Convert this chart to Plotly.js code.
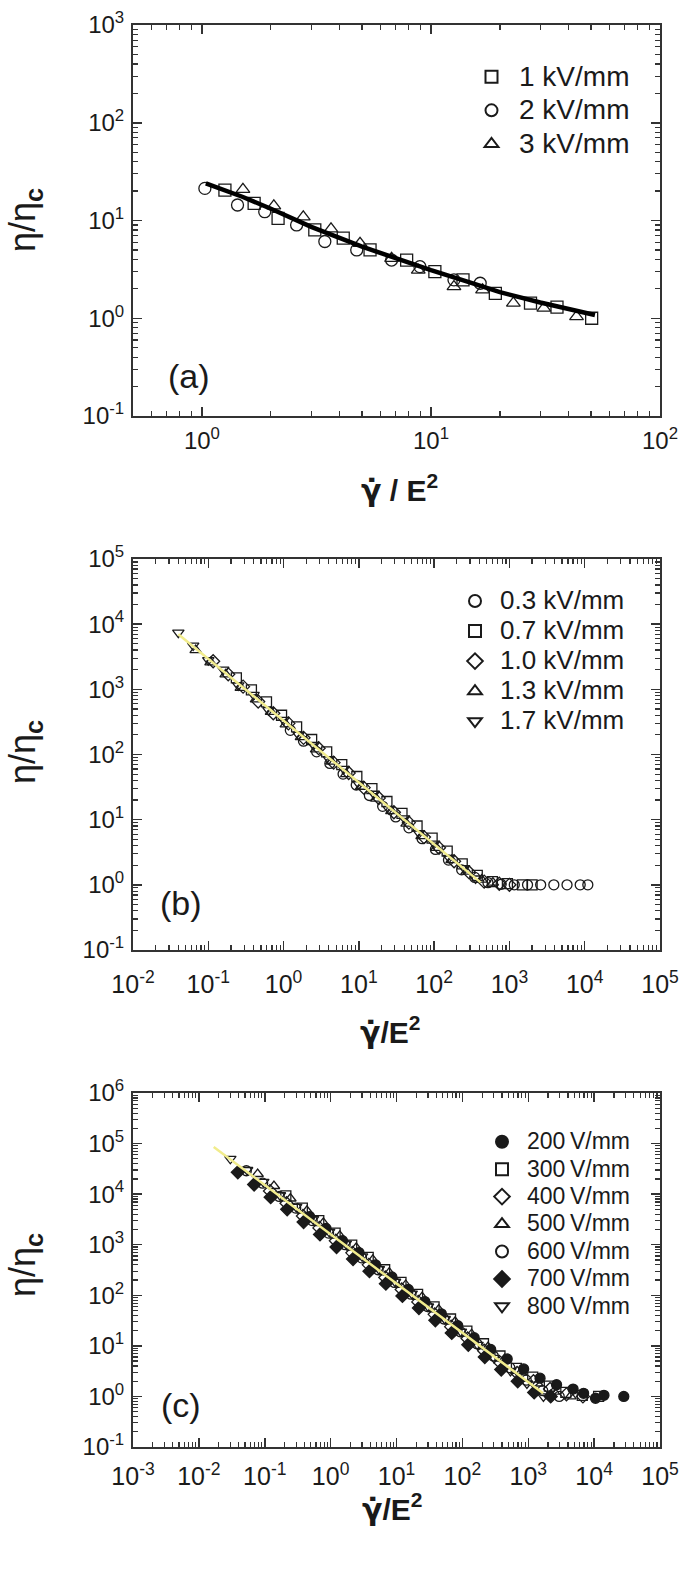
<!DOCTYPE html>
<html><head><meta charset="utf-8">
<script src="https://cdn.plot.ly/plotly-3.0.1.min.js"></script>
<style>html,body{margin:0;padding:0;background:#fff}#chart{width:685px;height:1572px}</style>
</head><body><div id="chart"></div>
<script>
// ---------- Panel (a) ----------
const a_1kV_x = [1.26,1.69,2.15,3.11,4.14,5.42,7.83,10.4,13.8,19.1,27.2,35.5,50.3];
const a_1kV_y = [20.5,15.0,10.5,8.0,6.6,5.0,3.94,3.0,2.47,1.80,1.43,1.30,1.0];
const a_2kV_x = [1.03,1.43,1.88,2.59,3.44,4.74,6.73,8.95,12.6,16.4];
const a_2kV_y = [21.3,14.4,12.3,9.0,6.1,5.0,3.94,3.37,2.47,2.28];
const a_3kV_x = [1.51,2.06,2.77,3.66,4.9,6.73,8.8,12.6,16.8,22.9,31.1,43.2];
const a_3kV_y = [20.8,14.1,10.9,8.2,5.85,4.1,3.1,2.11,1.95,1.43,1.27,1.04];
const a_fit_x = [1.04,1.5,2,3,5,7,10,15,20,30,40,52];
const a_fit_y = [24,17.5,13.2,8.6,5.4,4.1,3.1,2.3,1.85,1.45,1.25,1.08];

// ---------- Panel (b) ----------
const b_03_x = [1.23,1.84,2.75,4.12,6.17,9.23,13.8,20.7,30.9,46.2,69.2,104,155,232,347,519,776,1160,1740,2600,3890,5820,8710,11000];
const b_03_y = [235,160,110,73,50,34,23.5,16,11,7.5,5.1,3.5,2.4,1.7,1.3,1.08,1.02,1.0,1.0,1.0,1.0,1.0,1.0,1.0];
const b_07_x = [0.236,0.374,0.593,0.94,1.49,2.36,3.74,5.93,9.4,14.9,23.6,37.4,59.3,94,149,236,374,593,940,1490,2000];
const b_07_y = [1500,980,640,400,265,170,110,70,46,30,19,12.5,8,5.2,3.3,2.1,1.4,1.12,1.04,1.0,1.0];
const b_10_x = [0.116,0.184,0.29,0.46,0.73,1.16,1.84,2.92,4.62,7.33,11.6,18.4,29.2,46.2,73.3,116,184,292,462,733,1000];
const b_10_y = [2700,1700,1100,650,430,300,180,125,75,52,31,21.5,13,9,5.4,3.7,2.3,1.55,1.12,1.04,1.0];
const b_13_x = [0.068,0.107,0.17,0.27,0.43,0.68,1.07,1.7,2.7,4.3,6.8,10.7,17,27,43,68,107,170,269,427,603];
const b_13_y = [4000,2600,1700,1050,700,450,290,185,120,78,50,32,21,13.5,8.7,5.6,3.7,2.4,1.6,1.2,1.08];
const b_17_x = [0.040,0.063,0.10,0.158,0.25,0.40,0.63,1.0,1.58,2.5,4.0,6.3,10,15.8,25,40,63,100,158,250,355];
const b_17_y = [7400,4700,2800,2000,1150,820,480,340,200,140,85,60,35,25,14.5,10.5,6.2,4.3,2.6,1.8,1.25];
const b_fit_x = [0.04,414];
const b_fit_y = [7000,1.09];

// ---------- Panel (c) ----------
const c_200_x = [0.479,0.851,1.51,2.69,4.79,8.51,15.1,26.9,47.9,85.1,151,269,479,851,1510,2690,4790,6920,10500,14100,28200];
const c_200_y = [3600,2100,1200,700,400,230,130,75,43,25,14.5,8.5,5.5,3.5,2.3,1.7,1.4,1.15,0.92,1.05,1.0];
const c_300_x = [0.209,0.372,0.661,1.17,2.09,3.72,6.61,11.7,20.9,37.2,66.1,117,209,372,661,1170,2090,3720,6610,11700];
const c_300_y = [9200,5300,3000,1700,980,560,320,180,104,59,34,19.5,11,6.3,3.6,2.4,1.6,1.2,1.05,1.0];
const c_400_x = [0.12,0.214,0.38,0.676,1.2,2.14,3.8,6.76,12,21.4,38,67.6,120,214,380,676,1200,2140,3800,6760];
const c_400_y = [11500,6600,3700,2150,1200,690,400,225,130,74,42,24,14,8,4.6,2.9,2.0,1.4,1.1,1.0];
const c_500_x = [0.078,0.138,0.245,0.437,0.776,1.38,2.45,4.37,7.76,13.8,24.5,43.7,77.6,138,245,437,776,1380,2450,4370];
const c_500_y = [25000,14500,8200,4700,2700,1500,870,500,280,160,92,52,30,17,9.5,5.5,3.0,1.8,1.25,1.0];
const c_600_x = [0.0525,0.093,0.166,0.295,0.525,0.93,1.66,2.95,5.25,9.3,16.6,29.5,52.5,93,166,295,525,933,1660,2950];
const c_600_y = [29000,16500,9000,5300,3000,1700,1000,550,320,180,105,60,34,19,11,6.3,3.7,2.1,1.3,1.0];
const c_700_x = [0.039,0.069,0.123,0.219,0.389,0.69,1.23,2.19,3.89,6.9,12.3,21.9,38.9,69,123,219,389,692,1230,2190];
const c_700_y = [27000,15500,8700,5000,2800,1600,900,520,300,170,97,56,32,18,10.5,6,3.4,2.0,1.2,1.0];
const c_800_x = [0.030,0.054,0.095,0.17,0.30,0.54,0.95,1.7,3.0,5.4,9.5,17,30,54,95,170,302,537,955,1700];
const c_800_y = [50000,30000,17500,9500,5600,3200,1800,1050,590,330,185,108,60,34,19,10.5,5.8,3.2,1.8,1.0];
const c_fit_x = [0.0168,1680];
const c_fit_y = [86000,1.16];

// decade exponents for the tick labels
const a_x_exp = [0, 1, 2];
const a_y_exp = [-1, 0, 1, 2, 3];
const b_x_exp = [-2, -1, 0, 1, 2, 3, 4, 5];
const b_y_exp = [-1, 0, 1, 2, 3, 4, 5];
const c_x_exp = [-3, -2, -1, 0, 1, 2, 3, 4, 5];
const c_y_exp = [-1, 0, 1, 2, 3, 4, 5, 6];

const FONT = 'Liberation Sans, Arial, Helvetica, sans-serif';
const INK = '#1a1a1a';

function pts(x, y, name, symbol, xa, ya, legend, size, txtSize) {
  return {
    x: x, y: y, type: 'scatter', mode: 'markers',
    name: '<span style="font-size:' + txtSize + 'px">' + name + '</span>',
    xaxis: xa, yaxis: ya, legend: legend,
    marker: {symbol: symbol, size: size, color: INK, line: {width: 1.3, color: INK}}
  };
}
function fit(x, y, xa, ya, color, width) {
  return {x: x, y: y, type: 'scatter', mode: 'lines', xaxis: xa, yaxis: ya,
    showlegend: false, hoverinfo: 'skip', line: {color: color, width: width}};
}

const data = [
  pts(a_1kV_x, a_1kV_y, '1 kV/mm', 'square-open', 'x', 'y', 'legend', 12, 28),
  pts(a_2kV_x, a_2kV_y, '2 kV/mm', 'circle-open', 'x', 'y', 'legend', 12, 28),
  pts(a_3kV_x, a_3kV_y, '3 kV/mm', 'triangle-up-open', 'x', 'y', 'legend', 12, 28),
  fit(a_fit_x, a_fit_y, 'x', 'y', '#000', 4.5),

  pts(b_03_x, b_03_y, '0.3 kV/mm', 'circle-open', 'x2', 'y2', 'legend2', 10, 26),
  pts(b_07_x, b_07_y, '0.7 kV/mm', 'square-open', 'x2', 'y2', 'legend2', 10, 26),
  pts(b_10_x, b_10_y, '1.0 kV/mm', 'diamond-open', 'x2', 'y2', 'legend2', 10, 26),
  pts(b_13_x, b_13_y, '1.3 kV/mm', 'triangle-up-open', 'x2', 'y2', 'legend2', 10, 26),
  pts(b_17_x, b_17_y, '1.7 kV/mm', 'triangle-down-open', 'x2', 'y2', 'legend2', 10, 26),
  fit(b_fit_x, b_fit_y, 'x2', 'y2', '#f1ec8c', 2.5),

  pts(c_200_x, c_200_y, '200\u2009V/mm', 'circle', 'x3', 'y3', 'legend3', 10, 23),
  pts(c_300_x, c_300_y, '300\u2009V/mm', 'square-open', 'x3', 'y3', 'legend3', 10, 23),
  pts(c_400_x, c_400_y, '400\u2009V/mm', 'diamond-open', 'x3', 'y3', 'legend3', 10, 23),
  pts(c_500_x, c_500_y, '500\u2009V/mm', 'triangle-up-open', 'x3', 'y3', 'legend3', 10, 23),
  pts(c_600_x, c_600_y, '600\u2009V/mm', 'circle-open', 'x3', 'y3', 'legend3', 10, 23),
  pts(c_700_x, c_700_y, '700\u2009V/mm', 'diamond', 'x3', 'y3', 'legend3', 10, 23),
  pts(c_800_x, c_800_y, '800\u2009V/mm', 'triangle-down-open', 'x3', 'y3', 'legend3', 10, 23),
  fit(c_fit_x, c_fit_y, 'x3', 'y3', '#f1ec8c', 2.5)
];

function minorVals(lo, hi) {
  const v = [];
  for (let n = lo; n < hi; n++) for (let d = 2; d <= 9; d++) v.push(d * Math.pow(10, n));
  return v;
}

function ax(range, domain, anchor, exps, fontSize, extra) {
  const lo = Math.floor(range[0]), hi = Math.ceil(range[1]);
  return Object.assign({
    type: 'log', range: range, domain: domain, anchor: anchor,
    showgrid: false, zeroline: false,
    showline: true, linecolor: '#333', linewidth: 2, mirror: 'allticks',
    ticks: 'inside', ticklen: 9, tickwidth: 1.5, tickcolor: '#333',
    tickmode: 'array',
    tickvals: exps.map(e => Math.pow(10, e)),
    ticktext: exps.map(e => '10<sup>' + (e < 0 ? '-' : '') + Math.abs(e) + '</sup>'),
    tickfont: {family: FONT, size: fontSize, color: INK},
    minor: {ticks: 'inside', ticklen: 5, tickwidth: 1.2, tickcolor: '#333',
      tickmode: 'array', tickvals: minorVals(lo, hi), showgrid: false}
  }, extra || {});
}

const W = 685, H = 1572;
const px = v => v / W;
const py = v => 1 - v / H;
const XD = [px(133), px(660)];

function note(text, x, y, size, angle) {
  return {text: text, x: px(x), y: py(y), xref: 'paper', yref: 'paper',
    xanchor: 'center', yanchor: 'middle', showarrow: false, textangle: angle || 0,
    font: {size: size, family: FONT, color: INK}};
}
const GDOT = '<span style="font-family:DejaVu Sans">γ\u0307</span>';

const layout = {
  width: W, height: H,
  margin: {l: 0, r: 0, t: 0, b: 0},
  paper_bgcolor: '#fff', plot_bgcolor: '#fff',
  font: {family: FONT, color: INK},
  xaxis: ax([Math.log10(0.5), 2], XD, 'y', a_x_exp, 24, {ticklabelstandoff: 2}),
  yaxis: ax([-1, 3], [py(416), py(25)], 'x', a_y_exp, 24, {ticklabelstandoff: 2}),
  xaxis2: ax([-2, 5], XD, 'y2', b_x_exp, 25, {ticklabelstandoff: 11}),
  yaxis2: ax([-1, 5], [py(950), py(559)], 'x2', b_y_exp, 24, {ticklabelstandoff: 2}),
  xaxis3: ax([-3, 5], XD, 'y3', c_x_exp, 25, {ticklabelstandoff: 6}),
  yaxis3: ax([-1, 6], [py(1447), py(1093)], 'x3', c_y_exp, 24, {ticklabelstandoff: 2}),
  legend: {x: px(464), y: py(55), xanchor: 'left', yanchor: 'top', bgcolor: 'rgba(0,0,0,0)',
    font: {family: FONT, size: 23.5, color: INK}, itemsizing: 'constant', itemwidth: 45, tracegroupgap: 0},
  legend2: {x: px(450), y: py(581), xanchor: 'left', yanchor: 'top', bgcolor: 'rgba(0,0,0,0)',
    font: {family: FONT, size: 20.8, color: INK}, itemsizing: 'constant', itemwidth: 40, tracegroupgap: 0},
  legend3: {x: px(477), y: py(1123), xanchor: 'left', yanchor: 'top', bgcolor: 'rgba(0,0,0,0)',
    font: {family: FONT, size: 18.8, color: INK}, itemsizing: 'constant', itemwidth: 40, tracegroupgap: 0},
  annotations: [
    note('(a)', 189, 376, 34),
    note('(b)', 181, 903, 34),
    note('(c)', 181, 1405, 34),
    note('η/η<sub><b>c</b></sub>', 25, 220, 36, -90),
    note('η/η<sub><b>c</b></sub>', 25, 752, 36, -90),
    note('η/η<sub><b>c</b></sub>', 25, 1265, 36, -90),
    note('<b>' + GDOT + ' / E<sup>2</sup></b>', 400, 488, 30),
    note('<b>' + GDOT + '/E<sup>2</sup></b>', 390, 1030, 30),
    note('<b>' + GDOT + '/E<sup>2</sup></b>', 392, 1507, 30)
  ],
  showlegend: true
};

Plotly.newPlot('chart', data, layout, {staticPlot: true, displayModeBar: false});
</script>
</body></html>
